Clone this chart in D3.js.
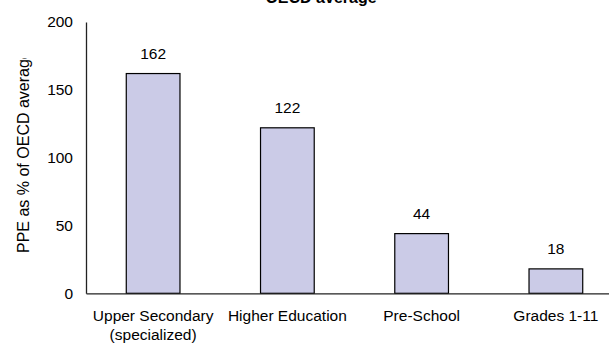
<!DOCTYPE html>
<html>
<head>
<meta charset="utf-8">
<script src="https://cdn.jsdelivr.net/npm/d3@7"></script>
<style>
  body { margin: 0; background: #fff; }
  svg { display: block; font-family: Arial, "Liberation Sans", sans-serif; }
</style>
</head>
<body>
<svg id="chart" width="609" height="345"></svg>
<script>
// categories, values, ticks
var categories = ['Upper Secondary|(specialized)', 'Higher Education', 'Pre-School', 'Grades 1-11'];
var values = [162, 122, 44, 18];
var yTicks = [0, 50, 100, 150, 200];

var svg = d3.select('#chart'),
	W = 609, H = 345,
	fs = '15.5px',
	margin = {top: 22, left: 86, bottom: 52};

var x = d3.scaleBand()
	.domain(categories)
	.range([margin.left, margin.left + 537])
	.paddingInner(0.6)
	.paddingOuter(0.3);

var y = d3.scaleLinear()
	.domain([0, 200])
	.range([H - margin.bottom + 0.3, margin.top]);

// title (cut off at the top, as in the original)
svg.append('text')
	.attr('x', 321)
	.attr('y', 3)
	.attr('text-anchor', 'middle')
	.style('font-weight', 'bold')
	.style('font-size', '16px')
	.text('OECD average');

// y axis label, clipped at the top
svg.append('clipPath').attr('id', 'ylab-clip')
	.append('rect').attr('x', 0).attr('y', 58).attr('width', 45).attr('height', 260);

svg.append('g')
	.attr('clip-path', 'url(#ylab-clip)')
	.append('text')
	.attr('transform', 'translate(29,253) rotate(-90)')
	.attr('text-anchor', 'start')
	.style('font-size', '16px')
	.text('PPE as % of OECD average');

// bars
svg.selectAll('rect.bar')
	.data(values)
	.enter().append('rect')
	.attr('class', 'bar')
	.attr('x', function(d, i) { return x(categories[i]); })
	.attr('width', x.bandwidth())
	.attr('y', function(d) { return y(d); })
	.attr('height', function(d) { return y(0) - y(d); })
	.attr('fill', '#cbcbe7')
	.attr('stroke', '#000')
	.attr('stroke-width', 1.2);

// value labels
svg.selectAll('text.val')
	.data(values)
	.enter().append('text')
	.attr('class', 'val')
	.attr('x', function(d, i) { return x(categories[i]) + x.bandwidth() / 2; })
	.attr('y', function(d) { return y(d) - 15; })
	.attr('text-anchor', 'middle')
	.style('font-size', fs)
	.text(function(d) { return d; });

// Y axis
var yAxis = svg.append('g')
	.attr('transform', 'translate(' + margin.left + ',0)')
	.call(d3.axisLeft(y).tickValues(yTicks).tickSize(0).tickPadding(13));
yAxis.select('.domain').attr('stroke', '#222').attr('stroke-width', 1.3);
yAxis.selectAll('text').style('font-size', fs).attr('fill', '#000')
	.style('font-family', 'Arial, "Liberation Sans", sans-serif');

// X axis
var xAxis = svg.append('g')
	.attr('transform', 'translate(0,' + y(0) + ')')
	.call(d3.axisBottom(x).tickSize(0).tickFormat(''));
xAxis.select('.domain').attr('stroke', '#222').attr('stroke-width', 1.3);

// category labels (wrapped on |)
categories.forEach(function(c) {
	var t = svg.append('text')
		.attr('x', x(c) + x.bandwidth() / 2)
		.attr('y', 321)
		.attr('text-anchor', 'middle')
		.style('font-size', fs);
	c.split('|').forEach(function(line, j) {
		t.append('tspan')
			.attr('x', x(c) + x.bandwidth() / 2)
			.attr('dy', j === 0 ? 0 : 19)
			.text(line);
	});
});
</script>
</body>
</html>
